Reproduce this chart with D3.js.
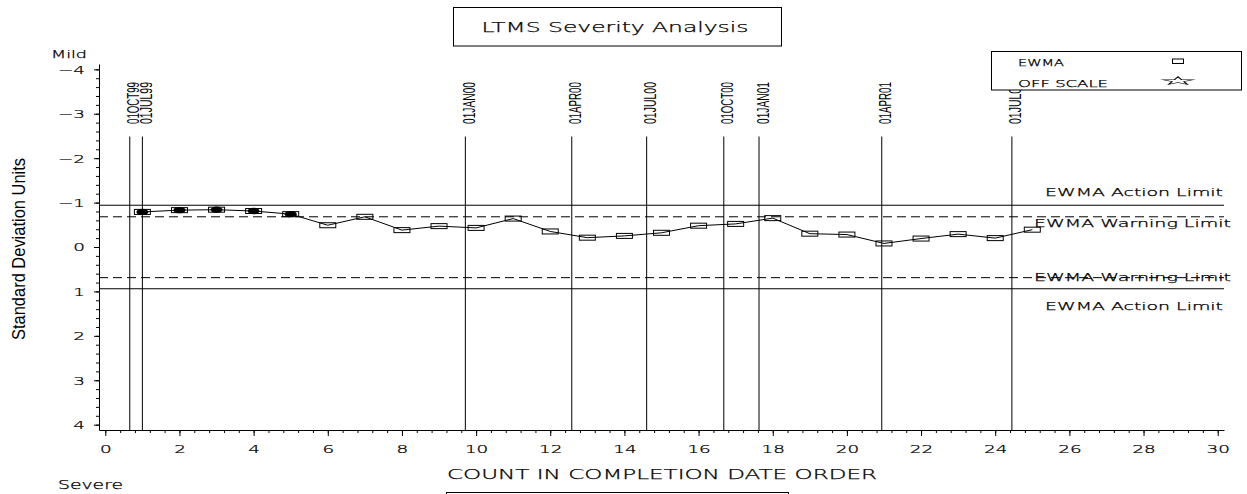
<!DOCTYPE html>
<html>
<head>
<meta charset="utf-8">
<script src="https://cdn.jsdelivr.net/npm/d3@7"></script>
<style>
  body { margin: 0; background: #fff; }
  svg { display: block; }
  .sas { font-family: "DejaVu Sans", sans-serif; font-weight: 200; fill: #000; stroke: #000; stroke-width: 0.25; }
  .narrow { font-family: "Liberation Sans", sans-serif; fill: #000; }
</style>
</head>
<body>
<div class="canvas"></div>
<script>
// EWMA value for each test, in completion order
const counts = d3.range(1, 26);
const ewma = [-0.79, -0.83, -0.84, -0.81, -0.74, -0.49, -0.68, -0.38, -0.47, -0.43,
              -0.64, -0.35, -0.21, -0.25, -0.32, -0.48, -0.52, -0.65, -0.30, -0.28,
              -0.08, -0.19, -0.29, -0.20, -0.39];
// first five points carry a filled marker
const filled = [1, 1, 1, 1, 1, 0, 0, 0, 0, 0, 0, 0, 0, 0, 0, 0, 0, 0, 0, 0, 0, 0, 0, 0, 0];

// date reference lines (position on the count axis)
const dateLabels = ['01OCT99', '01JUL99', '01JAN00', '01APR00', '01JUL00', '01OCT00', '01JAN01', '01APR01', '01JUL01'];
const datePos = [0.66, 1.0, 9.71, 12.58, 14.6, 16.68, 17.63, 20.94, 24.45];

// control limits
const actionLimits = [-0.94, 0.94];
const warningLimits = [-0.68, 0.69];

const xTicks = d3.range(0, 31, 2);
const yTicks = d3.range(-4, 5, 1);

const width = 1247, height = 494;
const wide = 1.75; // horizontal stretch for the simplex-like text

const svg = d3.select('.canvas')
    .append('svg')
    .attr('width', width)
    .attr('height', height);

const x = d3.scaleLinear().domain([-0.17, 30.17]).range([99, 1224]);
const y = d3.scaleLinear().domain([-4.12, 4.12]).range([64, 430]);

// title box
svg.append('rect')
    .attr('x', 453.5).attr('y', 7.5).attr('width', 328).attr('height', 38.5)
    .attr('fill', 'none').attr('stroke', '#000');
svg.append('text').attr('class', 'sas')
    .attr('x', 615).attr('y', 32).attr('text-anchor', 'middle')
    .attr('font-size', 14)
    .attr('textLength', 267).attr('lengthAdjust', 'spacingAndGlyphs')
    .text('LTMS Severity Analysis');

// bottom box (mostly off the page)
svg.append('rect')
    .attr('x', 446.5).attr('y', 492.5).attr('width', 342).attr('height', 30)
    .attr('fill', 'none').attr('stroke', '#000');

// axes
svg.append('g').attr('transform', 'translate(99,0)')
    .call(d3.axisLeft(y).tickValues(d3.range(-4, 4.01, 0.2)).tickSize(3).tickSizeOuter(0).tickFormat(''))
    .call(g => g.select('.domain').remove());
const yMajor = svg.append('g').attr('transform', 'translate(99,0)')
    .call(d3.axisLeft(y).tickValues(yTicks).tickSize(5).tickSizeOuter(0)
        .tickFormat(d => d < 0 ? '\u2212' + (-d) : d));
yMajor.selectAll('text')
    .attr('class', 'sas').attr('x', -14 / wide).attr('dy', '0.37em')
    .attr('transform', `scale(${wide},1)`)
    .attr('font-size', 10.5).attr('font-family', null);

svg.append('g').attr('transform', 'translate(0,430)')
    .call(d3.axisBottom(x).tickValues(d3.range(0, 30.01, 0.4)).tickSize(3).tickSizeOuter(0).tickFormat(''))
    .call(g => g.select('.domain').remove());
const xMajor = svg.append('g').attr('transform', 'translate(0,430)')
    .call(d3.axisBottom(x).tickValues(xTicks).tickSize(6).tickSizeOuter(0));
xMajor.selectAll('text')
    .attr('class', 'sas').attr('y', 23).attr('dy', 0)
    .attr('transform', `scale(${wide},1)`)
    .attr('font-size', 10.5).attr('font-family', null);

svg.selectAll('.domain').attr('stroke', '#000');
svg.selectAll('.tick line').attr('stroke', '#000');

// axis titles
svg.append('text').attr('class', 'sas')
    .attr('x', 662).attr('y', 479).attr('text-anchor', 'middle')
    .attr('font-size', 13.5)
    .attr('textLength', 430).attr('lengthAdjust', 'spacingAndGlyphs')
    .text('COUNT IN COMPLETION DATE ORDER');

svg.append('text').attr('class', 'narrow')
    .attr('transform', 'translate(25,249) rotate(-90)')
    .attr('text-anchor', 'middle')
    .attr('font-size', 18.5)
    .attr('textLength', 182).attr('lengthAdjust', 'spacingAndGlyphs')
    .text('Standard Deviation Units');

svg.append('text').attr('class', 'sas')
    .attr('x', 51).attr('y', 57.5).attr('font-size', 10.5)
    .attr('textLength', 36).attr('lengthAdjust', 'spacingAndGlyphs')
    .text('Mild');
svg.append('text').attr('class', 'sas')
    .attr('x', 58).attr('y', 489).attr('font-size', 11.5)
    .attr('textLength', 65).attr('lengthAdjust', 'spacingAndGlyphs')
    .text('Severe');

// limit lines
svg.selectAll('.action')
    .data(actionLimits)
    .enter().append('line')
    .attr('x1', 99).attr('x2', 1224)
    .attr('y1', d => y(d)).attr('y2', d => y(d))
    .attr('stroke', '#000');
svg.selectAll('.warning')
    .data(warningLimits)
    .enter().append('line')
    .attr('x1', 99).attr('x2', 1224)
    .attr('y1', d => y(d)).attr('y2', d => y(d))
    .attr('stroke', '#000')
    .attr('stroke-dasharray', '9,5');

const limitText = [
    { v: actionLimits[0], dy: -9, label: 'EWMA Action Limit', x: 1045, w: 178 },
    { v: warningLimits[0], dy: 10.5, label: 'EWMA Warning Limit', x: 1034, w: 197 },
    { v: warningLimits[1], dy: 3, label: 'EWMA Warning Limit', x: 1034, w: 197 },
    { v: actionLimits[1], dy: 21.5, label: 'EWMA Action Limit', x: 1045, w: 178 }
];
svg.selectAll('.limitLabel')
    .data(limitText)
    .enter().append('text')
    .attr('class', 'sas')
    .attr('x', d => d.x)
    .attr('y', d => y(d.v) + d.dy)
    .attr('font-size', 10.5)
    .attr('textLength', d => d.w).attr('lengthAdjust', 'spacingAndGlyphs')
    .text(d => d.label);

// date reference lines + rotated labels
svg.selectAll('.dateLine')
    .data(datePos)
    .enter().append('line')
    .attr('x1', d => x(d)).attr('x2', d => x(d))
    .attr('y1', 136.5).attr('y2', 430)
    .attr('stroke', '#000');
svg.selectAll('.dateLabel')
    .data(dateLabels)
    .enter().append('text')
    .attr('class', 'narrow')
    .attr('transform', (d, i) => `translate(${x(datePos[i]) + 9.5},124) rotate(-90)`)
    .attr('font-size', 16.5)
    .attr('textLength', 42).attr('lengthAdjust', 'spacingAndGlyphs')
    .text(d => d);

// EWMA series
const line = d3.line()
    .x((d, i) => x(counts[i]))
    .y(d => y(d));
svg.append('path')
    .datum(ewma)
    .attr('d', line)
    .attr('fill', 'none')
    .attr('stroke', '#000')
    .attr('stroke-width', 1);

svg.selectAll('.dot')
    .data(ewma.filter((d, i) => filled[i]))
    .enter().append('ellipse')
    .attr('cx', (d, i) => x(counts[i]))
    .attr('cy', d => y(d))
    .attr('rx', 6).attr('ry', 3.2)
    .attr('fill', '#000');

svg.selectAll('.box')
    .data(ewma)
    .enter().append('rect')
    .attr('x', (d, i) => x(counts[i]) - 8)
    .attr('y', d => y(d) - 2.5)
    .attr('width', 16).attr('height', 5)
    .attr('fill', 'none')
    .attr('stroke', '#000');

// legend
svg.append('rect')
    .attr('x', 991.5).attr('y', 51.5).attr('width', 250).attr('height', 38.5)
    .attr('fill', '#fff').attr('stroke', '#000');
svg.append('text').attr('class', 'sas')
    .attr('x', 1018).attr('y', 66).attr('font-size', 8.5)
    .attr('textLength', 46).attr('lengthAdjust', 'spacingAndGlyphs')
    .text('EWMA');
svg.append('text').attr('class', 'sas')
    .attr('x', 1018).attr('y', 86.5).attr('font-size', 8.5)
    .attr('textLength', 90).attr('lengthAdjust', 'spacingAndGlyphs')
    .text('OFF SCALE');
svg.append('rect')
    .attr('x', 1172.5).attr('y', 59).attr('width', 11).attr('height', 4.5)
    .attr('fill', 'none').attr('stroke', '#000');
svg.append('path')
    .attr('d', d3.symbol(d3.symbolStar).size(80)())
    .attr('transform', 'translate(1178,81) scale(1.9,0.5)')
    .attr('fill', 'none')
    .attr('stroke', '#000')
    .attr('stroke-width', 0.9);
</script>
</body>
</html>
